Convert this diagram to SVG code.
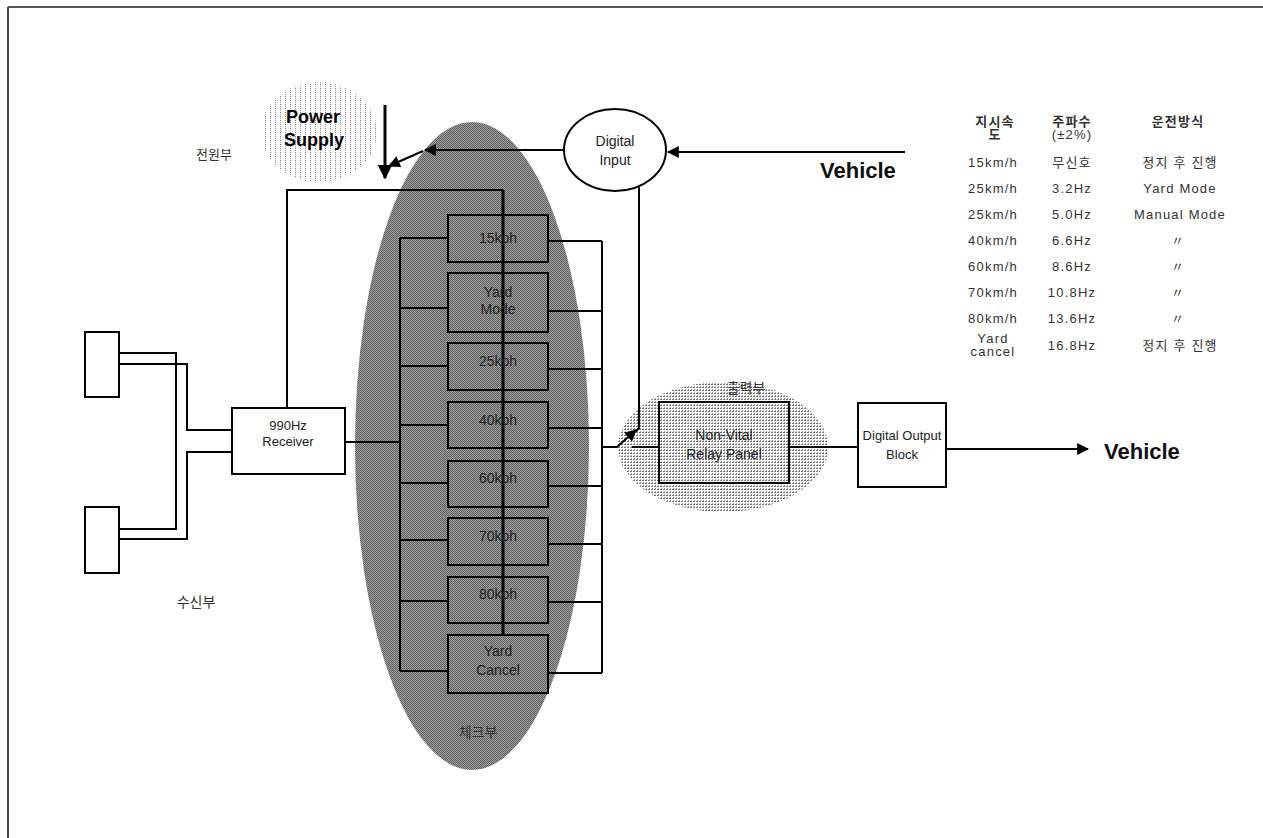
<svg xmlns="http://www.w3.org/2000/svg" width="1263" height="838" viewBox="0 0 1263 838">
<style>
.t{font-family:"Liberation Sans","Noto Sans CJK KR",sans-serif;fill:#222;text-anchor:middle}
.k{font-family:"Liberation Sans","Noto Sans CJK KR",sans-serif;fill:#333;text-anchor:middle}
.ln{stroke:#000;stroke-width:2;fill:none}
.th{stroke:#000;stroke-width:3;fill:none}
.bx{stroke:#000;stroke-width:2;fill:none}
.wb{stroke:#000;stroke-width:2;fill:#fff}
.tb{font-family:"Liberation Sans","Noto Sans CJK KR",sans-serif;fill:#333;text-anchor:middle;font-size:13px;letter-spacing:1.2px}
</style>
<defs>
<pattern id="checker" width="2" height="2" patternUnits="userSpaceOnUse">
<rect width="2" height="2" fill="#a2a2a2"/>
<rect width="1" height="1" fill="#5c5c5c"/>
<rect x="1" y="1" width="1" height="1" fill="#5c5c5c"/>
</pattern>
<pattern id="sparse" width="5" height="4" patternUnits="userSpaceOnUse">
<rect width="5" height="4" fill="#fff"/>
<rect width="1" height="1" fill="#777"/>
<rect y="2" width="1" height="1" fill="#999"/>
</pattern>
<pattern id="dense" width="3" height="3" patternUnits="userSpaceOnUse">
<rect width="3" height="3" fill="#fff"/>
<rect width="2" height="1" fill="#777"/>
<rect x="1" y="2" width="1" height="1" fill="#999"/>
</pattern>
<marker id="ah" viewBox="0 0 10 10" refX="9" refY="5" markerWidth="5" markerHeight="5" orient="auto" markerUnits="strokeWidth">
<path d="M0,0 L10,5 L0,10 z" fill="#000"/>
</marker>
<marker id="ah2" viewBox="0 0 10 10" refX="9" refY="5" markerWidth="6" markerHeight="6" orient="auto" markerUnits="strokeWidth">
<path d="M0,0 L10,5 L0,10 z" fill="#000"/>
</marker>
</defs>
<rect width="1263" height="838" fill="#fff"/>
<g id="border">
<line x1="8" y1="7" x2="1263" y2="7" stroke="#555" stroke-width="2"/>
<line x1="8" y1="7" x2="8" y2="838" stroke="#444" stroke-width="2"/>
</g>
<g id="check-area">
<ellipse cx="472" cy="446" rx="117" ry="324" fill="url(#checker)"/>
<text class="k" x="478" y="737" font-size="14">체크부</text>
</g>
<g id="power-supply">
<ellipse cx="319" cy="132" rx="58" ry="50" fill="url(#sparse)"/>
<text x="286" y="123" font-family="Liberation Sans,sans-serif" font-weight="bold" font-size="18" fill="#000">Power</text>
<text x="284" y="146" font-family="Liberation Sans,sans-serif" font-weight="bold" font-size="18" fill="#000">Supply</text>
<text class="k" x="214" y="159" font-size="13">전원부</text>
</g>
<g id="output-area">
<ellipse cx="723" cy="447" rx="105" ry="65" fill="url(#dense)"/>
<text class="k" x="746" y="393" font-size="14">출력부</text>
</g>
<g id="antenna1"><rect class="wb" x="85" y="332" width="34" height="65"/></g>
<g id="antenna2"><rect class="wb" x="85" y="507" width="34" height="66"/></g>
<g id="receiver">
<rect class="wb" x="232" y="408" width="113" height="66"/>
<text class="t" x="288" y="430" font-size="13">990Hz</text>
<text class="t" x="288" y="446" font-size="13">Receiver</text>
</g>
<text class="k" x="196" y="607" font-size="14">수신부</text>
<g id="connectors">
<polyline class="ln" points="119,353 176,353 176,529 119,529"/>
<polyline class="ln" points="119,364 187,364 187,430 232,430"/>
<polyline class="ln" points="232,452 187,452 187,539 119,539"/>
<polyline class="ln" points="287,408 287,190 503,190"/>
<line class="th" x1="503" y1="190" x2="503" y2="635"/>
<line class="th" x1="385" y1="105" x2="385" y2="178" marker-end="url(#ah)"/>
<line class="ln" x1="564" y1="150" x2="425" y2="150" marker-end="url(#ah2)"/>
<line class="ln" x1="423" y1="151" x2="389" y2="166" marker-end="url(#ah2)"/>
<line class="ln" x1="345" y1="442" x2="400" y2="442"/>
<line class="ln" x1="400" y1="238" x2="400" y2="671"/>
<line class="ln" x1="400" y1="238" x2="448" y2="238"/>
<line class="ln" x1="400" y1="308" x2="448" y2="308"/>
<line class="ln" x1="400" y1="366" x2="448" y2="366"/>
<line class="ln" x1="400" y1="425" x2="448" y2="425"/>
<line class="ln" x1="400" y1="483" x2="448" y2="483"/>
<line class="ln" x1="400" y1="540" x2="448" y2="540"/>
<line class="ln" x1="400" y1="601" x2="448" y2="601"/>
<line class="ln" x1="400" y1="671" x2="448" y2="671"/>
<line class="ln" x1="602" y1="241" x2="602" y2="673"/>
<line class="ln" x1="548" y1="241" x2="602" y2="241"/>
<line class="ln" x1="548" y1="311" x2="602" y2="311"/>
<line class="ln" x1="548" y1="369" x2="602" y2="369"/>
<line class="ln" x1="548" y1="428" x2="602" y2="428"/>
<line class="ln" x1="548" y1="486" x2="602" y2="486"/>
<line class="ln" x1="548" y1="544" x2="602" y2="544"/>
<line class="ln" x1="548" y1="602" x2="602" y2="602"/>
<line class="ln" x1="548" y1="673" x2="602" y2="673"/>
<polyline class="ln" points="602,447 617,447 636,430" marker-end="url(#ah2)"/>
<polyline class="ln" points="639,186 639,428 635,432"/>
<line class="ln" x1="632" y1="447" x2="659" y2="447"/>
<line class="ln" x1="789" y1="447" x2="858" y2="447"/>
<line class="ln" x1="946" y1="449" x2="1088" y2="449" marker-end="url(#ah2)"/>
<line class="ln" x1="905" y1="152" x2="668" y2="152" marker-end="url(#ah2)"/>
</g>
<g id="box-15kph"><rect class="bx" x="448" y="215" width="100" height="47"/><text class="t" x="498" y="243" font-size="14">15kph</text></g>
<g id="box-yardmode"><rect class="bx" x="448" y="273" width="100" height="59"/><text class="t" x="498" y="297" font-size="14">Yard</text><text class="t" x="498" y="314" font-size="14">Mode</text></g>
<g id="box-25kph"><rect class="bx" x="448" y="343" width="100" height="47"/><text class="t" x="498" y="366" font-size="14">25kph</text></g>
<g id="box-40kph"><rect class="bx" x="448" y="402" width="100" height="46"/><text class="t" x="498" y="425" font-size="14">40kph</text></g>
<g id="box-60kph"><rect class="bx" x="448" y="461" width="100" height="46"/><text class="t" x="498" y="483" font-size="14">60kph</text></g>
<g id="box-70kph"><rect class="bx" x="448" y="518" width="100" height="47"/><text class="t" x="498" y="541" font-size="14">70kph</text></g>
<g id="box-80kph"><rect class="bx" x="448" y="577" width="100" height="46"/><text class="t" x="498" y="599" font-size="14">80kph</text></g>
<g id="box-yardcancel"><rect class="bx" x="448" y="635" width="100" height="58"/><text class="t" x="498" y="656" font-size="14">Yard</text><text class="t" x="498" y="675" font-size="14">Cancel</text></g>
<g id="digital-input">
<ellipse cx="615" cy="150" rx="51" ry="41" fill="#fff" stroke="#000" stroke-width="2"/>
<text class="t" x="615" y="146" font-size="14">Digital</text>
<text class="t" x="615" y="165" font-size="14">Input</text>
</g>
<text x="820" y="178" font-family="Liberation Sans,sans-serif" font-weight="bold" font-size="22" fill="#111">Vehicle</text>
<g id="relay-panel">
<rect class="bx" x="659" y="402" width="130" height="81"/>
<text class="t" x="724" y="440" font-size="14">Non-Vital</text>
<text class="t" x="724" y="459" font-size="14">Relay Panel</text>
</g>
<g id="dob">
<rect class="wb" x="858" y="403" width="88" height="84"/>
<text class="t" x="902" y="440" font-size="13">Digital Output</text>
<text class="t" x="902" y="459" font-size="13">Block</text>
</g>
<text x="1104" y="459" font-family="Liberation Sans,sans-serif" font-weight="bold" font-size="22" fill="#111">Vehicle</text>
<g id="table">
<text class="tb" x="995" y="126" font-weight="bold">지시속</text>
<text class="tb" x="995" y="139" font-weight="bold">도</text>
<text class="tb" x="1072" y="126" font-weight="bold">주파수</text>
<text class="tb" x="1072" y="139">(±2%)</text>
<text class="tb" x="1178" y="126" font-weight="bold">운전방식</text>
<text class="tb" x="993" y="167">15km/h</text><text class="tb" x="1072" y="167">무신호</text><text class="tb" x="1180" y="167">정지 후 진행</text>
<text class="tb" x="993" y="193">25km/h</text><text class="tb" x="1072" y="193">3.2Hz</text><text class="tb" x="1180" y="193">Yard Mode</text>
<text class="tb" x="993" y="219">25km/h</text><text class="tb" x="1072" y="219">5.0Hz</text><text class="tb" x="1180" y="219">Manual Mode</text>
<text class="tb" x="993" y="245">40km/h</text><text class="tb" x="1072" y="245">6.6Hz</text><text class="tb" x="1178" y="245">〃</text>
<text class="tb" x="993" y="271">60km/h</text><text class="tb" x="1072" y="271">8.6Hz</text><text class="tb" x="1178" y="271">〃</text>
<text class="tb" x="993" y="297">70km/h</text><text class="tb" x="1072" y="297">10.8Hz</text><text class="tb" x="1178" y="297">〃</text>
<text class="tb" x="993" y="323">80km/h</text><text class="tb" x="1072" y="323">13.6Hz</text><text class="tb" x="1178" y="323">〃</text>
<text class="tb" x="993" y="343">Yard</text><text class="tb" x="993" y="356">cancel</text><text class="tb" x="1072" y="350">16.8Hz</text><text class="tb" x="1180" y="350">정지 후 진행</text>
</g>
</svg>
